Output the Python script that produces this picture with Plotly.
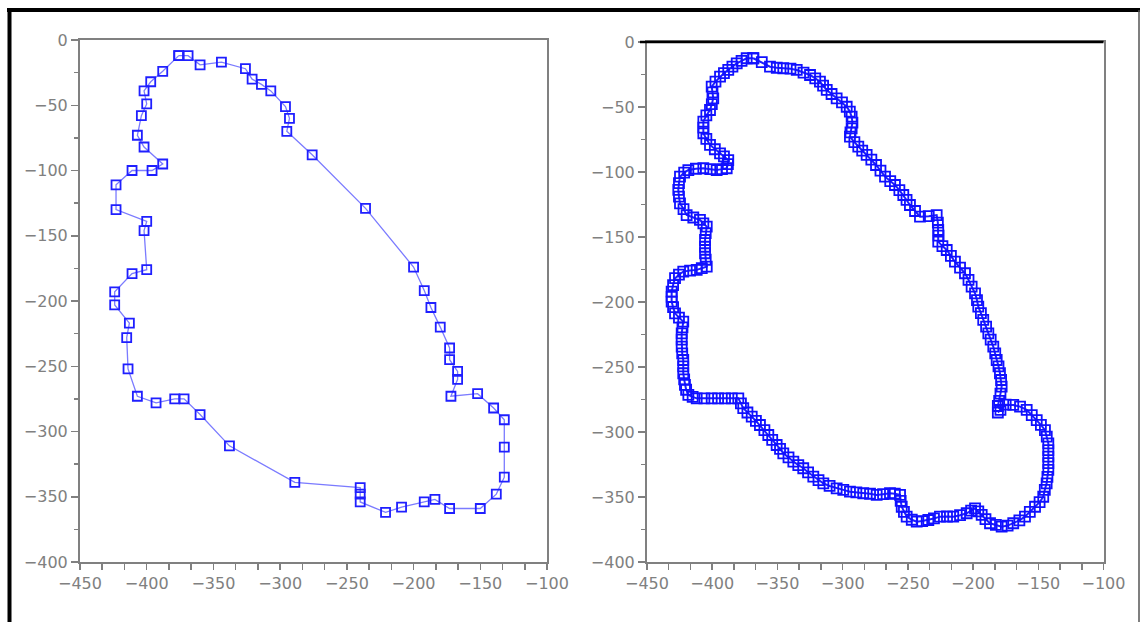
import plotly.graph_objects as go

# ---- left panel: sparse contour (closed) ----
left_x = [-376, -369, -360, -344, -326, -321, -314, -307, -296, -293, -295, -276,
          -236, -200, -192, -187, -180, -173, -173, -167, -167, -172, -152, -140,
          -132, -132, -132, -138, -150, -173, -184, -192, -209, -221, -240, -240,
          -240, -289, -338, -360, -372, -379, -393, -407, -414, -415, -413, -424,
          -424, -411, -400, -402, -400, -423, -423, -411, -396, -388, -402, -407,
          -404, -400, -402, -397, -388, -376]
left_y = [-12, -12, -19, -17, -22, -30, -34, -39, -51, -60, -70, -88,
          -129, -174, -192, -205, -220, -236, -245, -254, -260, -273, -271, -282,
          -291, -312, -335, -348, -359, -359, -352, -354, -358, -362, -354, -348,
          -343, -339, -311, -287, -275, -275, -278, -273, -252, -228, -217, -203,
          -193, -179, -176, -146, -139, -130, -111, -100, -100, -95, -82, -73,
          -58, -49, -39, -32, -24, -12]

# ---- right panel: dense contour ----
right_x = [
    -368.5, -362.0, -355.7, -350.5, -345.5, -340.0, -335.2, -330.0, -325.0, -321.0,
    -317.4, -315.0, -312.2, -308.5, -304.6, -300.5, -296.9, -294.5, -293.1, -292.5,
    -293.1, -294.0, -294.4, -291.0, -288.0, -285.0, -281.6, -278.0, -274.4, -271.0,
    -267.5, -263.5, -259.9, -256.5, -253.5, -251.0, -248.4, -244.5, -240.7, -234.0,
    -227.9, -227.0, -226.7, -226.5, -226.7, -223.5, -220.2, -217.0, -213.9, -210.0,
    -206.2, -203.5, -201.1, -198.5, -197.0, -196.0, -194.0, -192.2, -190.0, -188.3,
    -186.5, -184.5, -183.0, -181.9, -180.5, -179.4, -178.5, -178.1, -179.0, -180.0,
    -181.0, -179.0, -181.0, -175.0, -169.2, -164.0, -158.9, -155.0, -151.2, -148.0,
    -144.9, -143.5, -142.3, -142.3, -142.3, -142.3, -142.3, -143.0, -143.6, -145.0,
    -146.2, -149.0, -152.5, -156.5, -160.2, -164.5, -169.2, -173.5, -178.1, -182.5,
    -187.0, -190.5, -193.4, -196.0, -198.5, -201.5, -204.9, -210.0, -215.2, -220.0,
    -225.4, -230.0, -234.3, -239.0, -243.2, -247.0, -250.9, -253.0, -254.7, -255.5,
    -256.0, -260.0, -263.7, -269.0, -273.9, -279.0, -284.2, -289.5, -294.4, -299.5,
    -304.6, -310.0, -314.8, -318.5, -322.5, -326.5, -330.2, -334.0, -337.8, -341.5,
    -345.5, -348.0, -350.6, -354.0, -357.0, -360.0, -363.4, -366.5, -369.7, -373.0,
    -376.2, -378.0, -380.0, -385.0, -390.2, -395.5, -400.4, -406.0, -411.9, -415.0,
    -418.3, -420.0, -420.9, -421.5, -422.2, -422.2, -422.2, -423.0, -423.4, -423.4,
    -423.4, -422.8, -422.2, -425.5, -428.5, -430.0, -431.1, -431.1, -431.1, -430.0,
    -428.5, -425.5, -422.2, -417.0, -411.9, -408.0, -404.2, -405.0, -405.5, -405.5,
    -405.5, -405.0, -404.2, -406.8, -409.4, -414.5, -419.6, -422.0, -424.7, -425.5,
    -426.0, -425.5, -424.7, -421.5, -418.3, -412.5, -406.8, -401.5, -396.6, -392.5,
    -388.9, -388.0, -387.7, -391.0, -394.0, -398.0, -401.7, -404.5, -406.8, -406.8,
    -406.8, -404.5, -401.7, -400.3, -399.2, -399.8, -400.4, -397.5, -394.0, -391.0,
    -387.7, -384.5, -381.2, -377.5, -373.6, -368.5]
right_y = [
    -12.5, -15.5, -19.0, -19.8, -20.2, -20.5, -21.5, -23.5, -25.4, -28.0,
    -30.5, -33.5, -36.9, -40.0, -43.3, -46.5, -49.8, -53.5, -57.4, -62.0,
    -66.4, -69.5, -72.8, -77.0, -80.5, -83.5, -86.9, -90.5, -94.6, -99.0,
    -103.6, -107.0, -110.0, -114.0, -117.7, -121.5, -125.4, -130.0, -134.4, -134.0,
    -133.1, -139.0, -144.6, -149.0, -153.6, -157.0, -160.0, -164.5, -169.0, -173.5,
    -177.9, -183.0, -188.2, -193.3, -198.5, -203.6, -208.5, -213.8, -219.0, -224.1,
    -229.0, -234.4, -239.5, -244.6, -249.5, -254.8, -260.0, -265.1, -270.5, -276.0,
    -280.0, -283.0, -285.0, -279.0, -279.2, -280.5, -283.0, -287.0, -290.8, -294.5,
    -298.5, -303.5, -308.7, -314.0, -319.0, -324.0, -329.2, -334.5, -339.5, -344.5,
    -349.8, -354.0, -357.5, -361.5, -365.1, -368.0, -370.2, -372.0, -372.8, -371.5,
    -370.2, -367.0, -363.8, -361.0, -358.7, -360.5, -362.5, -364.0, -365.1, -365.0,
    -365.1, -366.5, -367.7, -368.5, -369.0, -367.5, -365.1, -361.5, -357.5, -353.0,
    -348.4, -347.5, -347.1, -347.8, -348.4, -347.5, -347.1, -346.5, -345.9, -344.5,
    -343.3, -341.5, -339.5, -337.0, -334.3, -331.0, -327.9, -325.5, -322.8, -319.5,
    -316.4, -313.0, -310.0, -306.0, -302.3, -298.5, -294.6, -291.5, -288.2, -285.0,
    -281.7, -278.0, -274.1, -274.1, -274.1, -274.1, -274.1, -274.1, -274.1, -273.0,
    -271.5, -267.5, -263.8, -259.5, -254.8, -249.5, -244.6, -239.5, -234.4, -229.0,
    -224.1, -219.5, -215.1, -212.0, -208.7, -204.0, -199.7, -196.0, -192.0, -187.0,
    -181.7, -179.0, -176.6, -175.8, -175.3, -174.0, -172.8, -167.5, -162.5, -157.5,
    -152.3, -147.0, -142.0, -139.5, -136.9, -135.0, -133.1, -128.5, -124.1, -119.0,
    -113.8, -108.5, -103.6, -100.5, -98.5, -97.5, -97.1, -97.8, -98.5, -97.8,
    -97.1, -94.0, -90.8, -88.0, -85.6, -82.5, -79.2, -74.5, -70.2, -65.8,
    -61.3, -56.5, -52.3, -47.8, -43.3, -38.8, -34.4, -30.5, -26.7, -24.0,
    -21.5, -19.0, -16.4, -14.5, -12.5, -12.5]

x_ticks = [-450, -400, -350, -300, -250, -200, -150, -100]
y_ticks = [0, -50, -100, -150, -200, -250, -300, -350, -400]

W, H = 1140, 622
GRAY = "#808080"
FONT = dict(family="DejaVu Sans", size=16, color=GRAY)


def lab(v):
    return str(v).replace("-", "\u2212")


fig = go.Figure()
fig.add_trace(go.Scatter(
    x=left_x, y=left_y, mode="lines+markers", xaxis="x", yaxis="y",
    line=dict(color="#7b7bff", width=1.3),
    marker=dict(symbol="square-open", size=9, color="#1f1fff", line=dict(width=1.8)),
    showlegend=False, hoverinfo="skip"))
fig.add_trace(go.Scatter(
    x=right_x, y=right_y, mode="lines+markers", xaxis="x2", yaxis="y2",
    line=dict(color="#1f1fff", width=2),
    marker=dict(symbol="square-open", size=10, color="#1010ff", line=dict(width=1.8)),
    showlegend=False, hoverinfo="skip"))


def xax(domain, anchor):
    return dict(domain=domain, range=[-450, -100], tickmode="array", tickvals=x_ticks,
                ticktext=[lab(v) for v in x_ticks], anchor=anchor, automargin=False,
                showgrid=False, zeroline=False, showline=True, linecolor=GRAY, linewidth=2,
                mirror=True, ticks="outside", ticklen=6, tickwidth=1.5, tickcolor=GRAY,
                tickfont=FONT, fixedrange=True,
                minor=dict(tick0=-450, dtick=50 / 3, ticks="outside", ticklen=6,
                           tickwidth=1.5, tickcolor=GRAY, showgrid=False))


def yax(domain, anchor):
    return dict(domain=domain, range=[-400, 0], tickmode="array", tickvals=y_ticks,
                ticktext=[lab(v) for v in y_ticks], anchor=anchor, automargin=False,
                showgrid=False, zeroline=False, showline=True, linecolor=GRAY, linewidth=2,
                mirror=True, ticks="outside", ticklen=7, tickwidth=1.5, tickcolor=GRAY,
                tickfont=FONT, fixedrange=True,
                minor=dict(tick0=0, dtick=25, ticks="outside", ticklen=4,
                           tickwidth=1.5, tickcolor=GRAY, showgrid=False))


fig.update_layout(
    width=W, height=H, margin=dict(l=0, r=0, t=0, b=0, pad=0, autoexpand=False),
    paper_bgcolor="white", plot_bgcolor="white",
    xaxis=xax([80 / W, 547 / W], "y"),
    yaxis=yax([1 - 562 / H, 1 - 40 / H], "x"),
    xaxis2=xax([647 / W, 1103.5 / W], "y2"),
    yaxis2=yax([1 - 562 / H, 1 - 42 / H], "x2"),
    shapes=[
        # outer frame
        dict(type="line", xref="paper", yref="paper", x0=7 / W, x1=1, y0=1 - 10 / H, y1=1 - 10 / H,
             line=dict(color="black", width=4)),
        dict(type="line", xref="paper", yref="paper", x0=9.5 / W, x1=9.5 / W, y0=0, y1=1 - 8 / H,
             line=dict(color="black", width=4)),
        dict(type="line", xref="paper", yref="paper", x0=1139 / W, x1=1139 / W, y0=0, y1=1 - 10 / H,
             line=dict(color="#555555", width=1.5)),
        # black top border of right panel
        dict(type="line", xref="x2 domain", yref="y2 domain", x0=-7 / 456.5, x1=1, y0=1, y1=1,
             line=dict(color="black", width=2.5)),
    ],
)

fig.write_html(
    "out.html",
    config={"displayModeBar": False, "staticPlot": True},
    post_script="document.body.style.margin='0';document.body.style.overflow='hidden';",
)
